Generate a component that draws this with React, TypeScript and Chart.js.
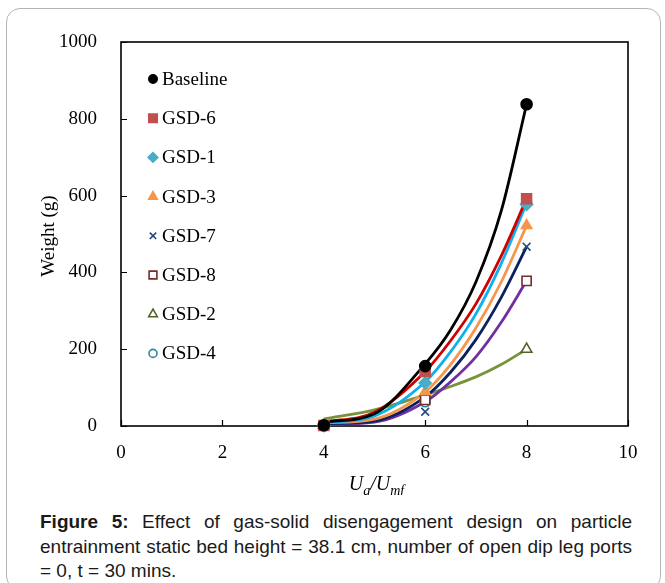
import React, { useEffect, useRef } from "react";
import { Chart, registerables } from "chart.js";
import { drawPoint } from "chart.js/helpers";

Chart.register(...registerables);

// ---- data ----
const markerX = [4, 6, 8];
const baseline = [2, 156, 838];
const gsd6 = [1, 142, 592];
const gsd1 = [1, 112, 577];
const gsd3 = [1, 89, 522];
const gsd7 = [1, 37, 467];
const gsd8 = [1, 68, 378];
const gsd2 = [2, 86, 200];
const gsd4 = [1, 63, 582];

// trend curves
const trendX = [4, 5, 6, 6.5, 7, 7.5, 8];
const trendBaseline = [10, 32, 162, 250, 375, 560, 838];
const trendGsd6 = [10, 36, 142, 222, 318, 443, 592];
const trendGsd1 = [8, 26, 115, 193, 292, 423, 580];
const trendGsd3 = [8, 18, 89, 160, 255, 375, 522];
const trendGsd7 = [6, 13, 76, 140, 225, 335, 467];
const trendGsd8 = [4, 10, 63, 115, 180, 270, 378];
const trendGsd2 = [18, 42, 81, 103, 128, 160, 200];

const xTicks = [0, 2, 4, 6, 8, 10];
const yTicks = [0, 200, 400, 600, 800, 1000];

const seriesNames = ["Baseline", "GSD-6", "GSD-1", "GSD-3", "GSD-7", "GSD-8", "GSD-2", "GSD-4"];
const seriesValues = [baseline, gsd6, gsd1, gsd3, gsd7, gsd8, gsd2, gsd4];
const markerStyles = ["circle", "rect", "rectRot", "triangle", "crossRot", "rect", "triangle", "circle"];
const markerFill = ["#000000", "#C0504D", "#4BACC6", "#F79646", "#1F497D", "#FFFFFF", "#FFFFFF", "#FFFFFF"];
const markerStroke = ["#000000", "#C0504D", "#4BACC6", "#F79646", "#1F497D", "#772C2A", "#4F6228", "#31859C"];
const markerRadius = [5.5, 7, 6, 6, 5.5, 6.5, 6, 5];
const legendRadius = [4.2, 6, 4.8, 5, 4.5, 5.5, 5, 4];

const trendValues = [trendBaseline, trendGsd6, trendGsd1, trendGsd3, trendGsd7, trendGsd8, trendGsd2];
const trendColors = ["#000000", "#D00000", "#10B0EC", "#F7964A", "#0A2060", "#7030A0", "#77933C"];

const SERIF = '"Liberation Serif", "Times New Roman", serif';

const framePlugin = {
  id: "frame",
  beforeDatasetsDraw(chart: any) {
    const { ctx, chartArea } = chart;
    const { left, right, top, bottom } = chartArea;
    const xs = chart.scales.x;
    const ys = chart.scales.y;
    ctx.save();
    ctx.strokeStyle = "#000";
    ctx.lineWidth = 1.6;
    ctx.strokeRect(left, top, right - left, bottom - top);
    ctx.lineWidth = 1.2;
    ctx.beginPath();
    xTicks.forEach((v) => {
      const px = Math.round(xs.getPixelForValue(v)) + 0.5;
      ctx.moveTo(px, bottom);
      ctx.lineTo(px, bottom - 6);
    });
    yTicks.forEach((v) => {
      const py = Math.round(ys.getPixelForValue(v)) + 0.5;
      ctx.moveTo(left, py);
      ctx.lineTo(left + 6, py);
    });
    ctx.stroke();
    ctx.restore();
  },
  afterDraw(chart: any) {
    const { ctx, chartArea } = chart;
    const { left, right, top, bottom } = chartArea;
    ctx.save();
    // legend
    ctx.textBaseline = "middle";
    ctx.textAlign = "left";
    ctx.font = `19px ${SERIF}`;
    seriesNames.forEach((name, i) => {
      const y = top + 37 + i * 39.2;
      const mx = left + 32;
      ctx.fillStyle = markerFill[i];
      ctx.strokeStyle = markerStroke[i];
      ctx.lineWidth = 1.6;
      drawPoint(ctx, { pointStyle: markerStyles[i] as any, radius: legendRadius[i], rotation: 0, borderWidth: 1.6 } as any, mx, y);
      ctx.fillStyle = "#000";
      ctx.fillText(name, left + 41, y + 1);
    });
    // y title
    ctx.save();
    ctx.translate(left - 72, (top + bottom) / 2 + 2);
    ctx.rotate(-Math.PI / 2);
    ctx.textAlign = "center";
    ctx.textBaseline = "middle";
    ctx.font = `19px ${SERIF}`;
    ctx.fillText("Weight (g)", 0, 0);
    ctx.restore();
    // x title with subscripts
    const big = `italic 20px ${SERIF}`;
    const small = `italic 14px ${SERIF}`;
    const parts: [string, string, number][] = [
      ["U", big, 0],
      ["g", small, 5],
      ["/", big, 0],
      ["U", big, 0],
      ["mf", small, 5],
    ];
    let total = 0;
    parts.forEach(([t, f]) => {
      ctx.font = f;
      total += ctx.measureText(t).width;
    });
    let x = (left + right) / 2 - total / 2 + 2;
    const baseY = bottom + 64;
    ctx.textBaseline = "alphabetic";
    parts.forEach(([t, f, dy]) => {
      ctx.font = f;
      ctx.fillText(t, x, baseY + dy);
      x += ctx.measureText(t).width;
    });
    ctx.restore();
  },
};

export default function App() {
  const ref = useRef<HTMLCanvasElement>(null);
  useEffect(() => {
    const trendSets = trendValues.map((vals, i) => ({
      label: "trend-" + seriesNames[i],
      data: trendX.map((x, k) => ({ x, y: vals[k] })),
      showLine: true,
      borderColor: trendColors[i],
      backgroundColor: trendColors[i],
      borderWidth: 2.8,
      pointRadius: 0,
      cubicInterpolationMode: "monotone" as const,
      clip: false as any,
      order: 2,
    }));
    const markerSets = seriesNames.map((name, i) => ({
      label: name,
      data: markerX.map((x, k) => ({ x, y: seriesValues[i][k] })),
      showLine: false,
      pointStyle: markerStyles[i] as any,
      pointRadius: markerRadius[i],
      pointBackgroundColor: markerFill[i],
      pointBorderColor: markerStroke[i],
      pointBorderWidth: 1.6,
      clip: false as any,
      order: 1,
    }));
    const chart = new Chart(ref.current!, {
      type: "scatter",
      data: { datasets: [...trendSets, ...markerSets] as any },
      plugins: [framePlugin],
      options: {
        animation: false,
        responsive: false,
        events: [],
        layout: { padding: { top: 33, right: 32, bottom: 0, left: 0 } },
        plugins: { legend: { display: false }, tooltip: { enabled: false } },
        scales: {
          x: {
            type: "linear",
            min: 0,
            max: 10,
            afterBuildTicks: (s: any) => {
              s.ticks = xTicks.map((v) => ({ value: v }));
            },
            afterFit: (s: any) => {
              s.height = 69;
            },
            grid: { display: false },
            border: { display: false },
            ticks: {
              color: "#000",
              font: { family: SERIF, size: 19 },
              padding: 8,
              maxRotation: 0,
              callback: (v: any) => String(v),
            },
          },
          y: {
            type: "linear",
            min: 0,
            max: 1000,
            afterBuildTicks: (s: any) => {
              s.ticks = yTicks.map((v) => ({ value: v }));
            },
            afterFit: (s: any) => {
              s.width = 114;
            },
            grid: { display: false },
            border: { display: false },
            ticks: {
              color: "#000",
              font: { family: SERIF, size: 19 },
              padding: 16,
              callback: (v: any) => String(v),
            },
          },
        },
      },
    });
    return () => chart.destroy();
  }, []);

  const captionLine: React.CSSProperties = {
    textAlign: "justify",
    textAlignLast: "justify",
    whiteSpace: "nowrap",
  };

  return (
    <div
      style={{
        position: "absolute",
        left: 6,
        top: 8,
        width: 655,
        height: 582,
        boxSizing: "border-box",
        border: "1px solid #b4b4b4",
        borderRadius: 14,
        background: "#fff",
      }}
    >
      <canvas ref={ref} width={653} height={486} style={{ display: "block", width: 653, height: 486 }} />
      <div
        style={{
          margin: "15px 28px 0 33px",
          fontFamily: '"Liberation Sans", Arial, sans-serif',
          fontSize: 19,
          lineHeight: "24.5px",
          color: "#1a1a1a",
        }}
      >
        <div style={captionLine}>
          <b>Figure 5:</b> Effect of gas-solid disengagement design on particle
        </div>
        <div style={captionLine}>
          entrainment static bed height = 38.1 cm, number of open dip leg ports
        </div>
        <div>= 0, t = 30 mins.</div>
      </div>
    </div>
  );
}
